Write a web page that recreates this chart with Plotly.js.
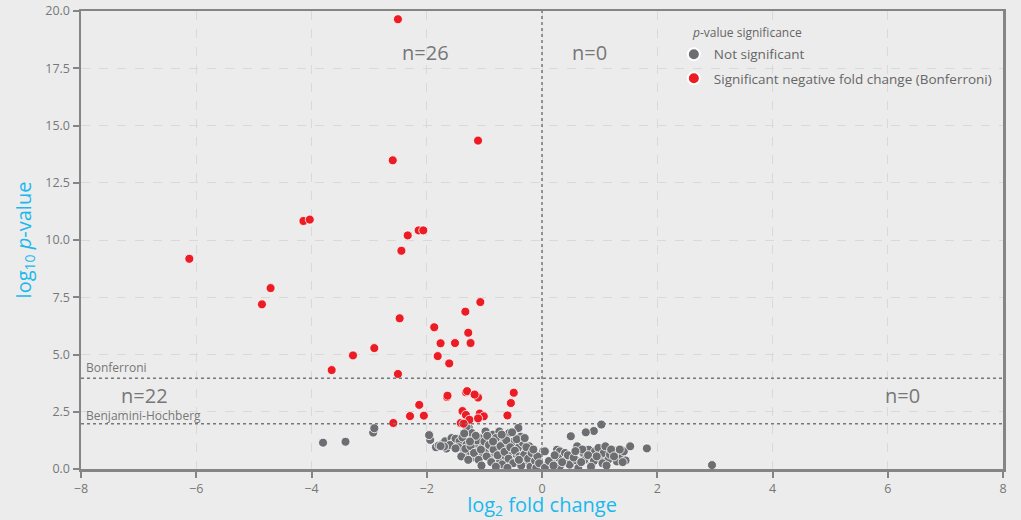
<!DOCTYPE html>
<html>
<head>
<meta charset="utf-8">
<script src="https://cdn.plot.ly/plotly-3.0.1.min.js"></script>
<style>html,body{margin:0;padding:0;background:#ececec;}#chart{width:1021px;height:520px;}</style>
</head>
<body>
<div id="chart"></div>
<script>
// Significant (Bonferroni) negative fold change points
const sigX = [-2.50,-1.11,-2.59,-4.14,-4.03,-2.33,-2.14,-2.06,-2.44,-6.12,
  -4.71,-4.86,-2.47,-1.87,-1.33,-1.07,-1.28,-1.76,-1.51,-1.24,
  -1.81,-1.61,-2.91,-3.28,-3.65,-2.50,
  -2.13,-2.29,-2.05,-2.58,-1.65,-1.32,-1.15,-1.11,-0.49,-0.54,
  -0.60,-1.38,-1.32,-1.26,-1.08,-1.01,-1.11,-1.41,-1.36,-1.64,-1.30,-1.17];
const sigY = [19.64,14.34,13.48,10.83,10.89,10.20,10.42,10.42,9.53,9.18,
  7.90,7.19,6.58,6.19,6.87,7.29,5.95,5.49,5.50,5.50,
  4.93,4.61,5.28,4.96,4.32,4.15,
  2.80,2.31,2.33,2.01,3.14,3.35,3.23,3.12,3.33,2.88,
  2.34,2.53,2.36,2.15,2.42,2.30,2.21,2.01,1.98,3.20,3.40,3.25];

// Not significant points
const nsX = [-3.80,-3.41,-2.93,-2.91,2.95,1.82,
  -1.95,-1.94,-1.84,-1.79,-1.73,-1.68,-1.66,-1.57,-1.54,-1.50,-1.43,-1.38,-1.36,-1.31,
  -1.27,-1.25,-1.22,-1.20,-1.19,-1.15,-1.11,-1.08,-1.03,-1.02,-0.98,-0.97,-0.93,-0.90,
  -0.88,-0.85,-0.82,-0.78,-0.74,-0.73,-0.71,-0.66,-0.63,-0.61,-0.57,-0.56,-0.54,-0.49,
  -0.44,-0.41,-0.40,-0.35,-0.33,-0.28,-0.24,-0.22,-0.15,-0.13,-0.06,0.02,-0.03,0.08,
  -1.96,-1.31,-0.37,
  -1.45,-1.40,-1.33,-1.28,-1.24,-1.18,-1.13,-1.10,-1.06,-1.00,-0.96,-0.92,-0.88,-0.84,
  -0.80,-0.77,-0.72,-0.69,-0.65,-0.62,-0.58,-0.55,-0.50,-0.47,-0.44,-0.39,-0.36,-0.31,
  -0.27,-0.24,-0.20,-0.18,-0.12,-0.10,-0.08,-0.05,-1.60,-1.70,-1.76,-1.50,-1.35,-1.15,
  -0.95,-0.70,-0.52,-0.30,-1.25,-0.85,-0.60,-0.40,-0.15,-1.05,-0.80,
  1.03,0.90,0.76,0.50,0.61,0.05,0.26,0.31,0.29,0.40,0.42,0.17,0.11,0.31,0.48,0.60,0.63,
  0.72,0.75,0.81,0.84,0.87,0.92,0.98,1.01,1.07,1.10,1.15,1.18,1.27,1.30,1.39,1.42,1.45,1.53,
  0.05,0.12,0.20,0.35,0.45,0.55,0.68,0.70,0.80,0.90,0.95,1.05,1.20,1.25,1.35,1.40,0.22,0.58,0.85,1.12];
const nsY = [1.15,1.19,1.59,1.78,0.17,0.90,
  1.50,1.27,0.95,1.03,1.09,1.21,0.89,1.35,1.13,1.32,1.21,1.38,0.68,1.06,
  1.79,0.77,1.57,1.18,0.51,0.95,0.77,1.35,0.62,1.06,1.64,0.84,1.28,0.48,
  0.95,1.50,0.70,1.18,1.64,0.33,0.84,1.35,0.55,1.06,1.57,0.33,0.77,1.21,
  0.62,1.79,0.95,0.41,1.14,0.77,0.26,0.99,0.55,0.19,0.41,0.77,0.07,0.19,
  1.48,1.85,1.41,
  0.95,0.55,0.88,0.40,1.00,0.70,1.25,0.40,0.85,1.20,0.55,1.05,0.30,0.85,
  1.35,0.60,1.00,0.20,0.75,1.25,0.45,0.95,0.25,0.80,1.30,0.55,0.15,0.62,
  0.95,0.45,0.10,0.70,0.35,0.05,0.55,0.25,1.05,0.98,1.00,0.90,1.55,1.45,
  1.45,1.50,1.60,1.35,1.20,1.20,0.05,0.40,0.85,0.15,0.10,
  1.94,1.66,1.60,1.43,0.99,0.77,0.84,0.77,0.48,0.70,0.40,0.26,0.12,0.12,0.19,0.37,0.04,
  0.70,0.41,0.84,0.55,0.22,0.77,0.92,0.41,0.70,0.99,0.41,0.63,0.77,0.33,0.55,0.77,0.37,0.99,
  0.05,0.35,0.15,0.30,0.60,0.50,0.30,0.85,0.60,0.35,0.55,0.25,0.85,0.55,0.85,0.30,0.60,0.78,0.10,0.15];

const bonferroni = 3.96;
const bh = 1.98;
const regionLabels = [
  {text:'n=26', x:-2.03, y:18.2},
  {text:'n=0', x:0.83, y:18.2},
  {text:'n=22', x:-6.9, y:3.2},
  {text:'n=0', x:6.25, y:3.2}
];

const font = '"Open Sans", sans-serif';
const grey = '#777777';
const cyan = '#1ab8ee';

const traces = [
  {x: nsX, y: nsY, type:'scatter', mode:'markers', name:'Not significant', legend:'legend',
   marker:{color:'#6d6e71', size:9, line:{color:'#ffffff', width:0.8}}},
  {x: sigX, y: sigY, type:'scatter', mode:'markers', name:'Significant negative fold change (Bonferroni)', legend:'legend2',
   marker:{color:'#ec1c24', size:9, line:{color:'#ffffff', width:0.8}}}
];

const annotations = regionLabels.map(r => ({
  x:r.x, y:r.y, xref:'x', yref:'y', text:r.text, showarrow:false,
  font:{family:font, size:20, color:grey}
}));
annotations.push({x:-8, y:bonferroni, xref:'x', yref:'y', text:'Bonferroni', showarrow:false,
  xanchor:'left', yanchor:'bottom', xshift:3, yshift:0, font:{family:font, size:12, color:grey}});
annotations.push({x:-8, y:bh, xref:'x', yref:'y', text:'Benjamini-Hochberg', showarrow:false,
  xanchor:'left', yanchor:'bottom', xshift:3, yshift:-2, font:{family:font, size:12, color:grey}});
annotations.push({x:0.6605, y:0.952, xref:'paper', yref:'paper', text:'<i>p</i>-value significance',
  showarrow:false, xanchor:'left', yanchor:'middle', font:{family:font, size:12, color:'#666'}});

const legendBase = {xanchor:'left', yanchor:'top', bgcolor:'rgba(0,0,0,0)',
  font:{family:font, size:13.5, color:'#666'}, itemsizing:'constant'};

const layout = {
  width:1021, height:520,
  paper_bgcolor:'#ececec', plot_bgcolor:'#ececec',
  margin:{l:81, r:18, t:11, b:51},
  font:{family:font, color:grey},
  xaxis:{range:[-8,8], dtick:2, tick0:-8, showline:true, mirror:true, linecolor:'#858585', linewidth:2.5,
    ticks:'outside', ticklen:6, tickwidth:2, tickcolor:'#858585', zeroline:false,
    gridcolor:'#d9d9d9', griddash:'dash', gridwidth:1,
    tickfont:{family:font, size:12.5, color:grey},
    title:{text:'log<sub>2</sub> fold change', font:{family:font, size:20, color:cyan}, standoff:6}},
  yaxis:{range:[0,20], dtick:2.5, tick0:0, tickformat:'.1f', showline:true, mirror:true, linecolor:'#858585', linewidth:2.5,
    ticks:'outside', ticklen:6, tickwidth:2, tickcolor:'#858585', zeroline:false,
    gridcolor:'#d9d9d9', griddash:'dash', gridwidth:1,
    tickfont:{family:font, size:12.5, color:grey},
    title:{text:'log<sub>10</sub> <i>p</i>-value', font:{family:font, size:20, color:cyan}, standoff:9}},
  shapes:[
    {type:'line', xref:'paper', x0:0, x1:1, yref:'y', y0:bonferroni, y1:bonferroni, line:{color:'#777', width:1.5, dash:'dot'}},
    {type:'line', xref:'paper', x0:0, x1:1, yref:'y', y0:bh, y1:bh, line:{color:'#777', width:1.5, dash:'dot'}},
    {type:'line', xref:'x', x0:0, x1:0, yref:'paper', y0:0, y1:1, line:{color:'#777', width:1.5, dash:'dot'}}
  ],
  annotations: annotations,
  showlegend:true,
  legend: Object.assign({x:0.643, y:0.939}, legendBase),
  legend2: Object.assign({x:0.643, y:0.8865}, legendBase)
};

Plotly.newPlot('chart', traces, layout, {displayModeBar:false, staticPlot:true});
</script>
</body>
</html>
